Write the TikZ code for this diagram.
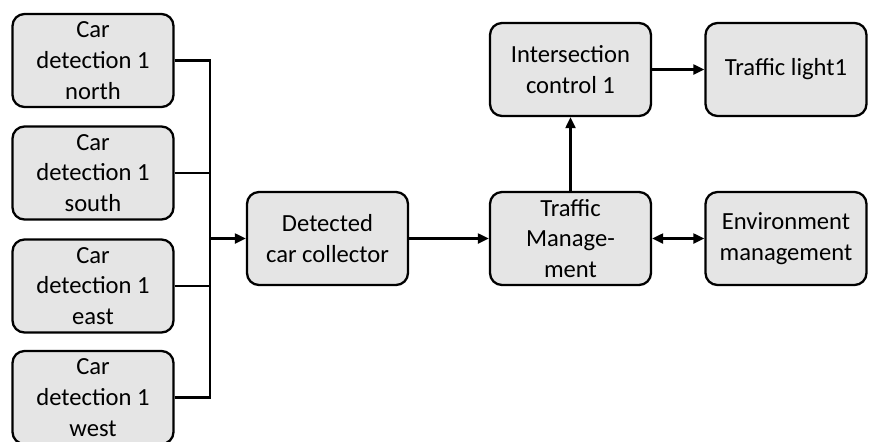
\documentclass[tikz,border=0pt]{standalone}
\usepackage{fontspec}
\setmainfont{Carlito}
\usepackage{tikz}
\usetikzlibrary{arrows.meta}

\begin{document}
\begin{tikzpicture}[>={Triangle[length=0.22cm, width=0.2cm]}]
\tikzset{block/.style={draw, line width=1.3pt, rounded corners=0.24cm, fill=gray!20, minimum width=3.22cm, minimum height=1.86cm, align=center, inner sep=2pt, font=\fontsize{14}{17.5}\selectfont}}
\tikzset{link/.style={line width=1.2pt}}
\useasboundingbox (0,0) rectangle (17.46,-8.82);

% left column: the four detectors
\node[block] (north) at (1.86,-1.21) {Car\\detection 1\\north};
\node[block] (south) at (1.86,-3.46) {Car\\detection 1\\south};
\node[block] (east) at (1.86,-5.72) {Car\\detection 1\\east};
\node[block] (west) at (1.86,-7.95) {Car\\detection 1\\west};

\node[block] (collector) at (6.55,-4.77) {Detected\\car collector};
\node[block] (trafficmgmt) at (11.41,-4.77) {Traffic\\Manage-\\ment};
\node[block] (intersection) at (11.41,-1.39) {Intersection\\control 1};
\node[block] (light) at (15.72,-1.39) {Traffic light1};
\node[block] (environment) at (15.72,-4.77) {Environment\\management};

\coordinate (bus) at (4.2,-4.77);
\draw[link] (north.east) -| (bus);
\draw[link] (west.east) -| (bus);
\draw[link] (south.east) -- (south.east -| bus);
\draw[link] (east.east) -- (east.east -| bus);
\draw[link, ->] (bus) -- (collector.west);

\draw[link, ->] (collector.east) -- (trafficmgmt.west);
\draw[link, ->] (trafficmgmt.north) -- (intersection.south);
\draw[link, ->] (intersection.east) -- (light.west);
\draw[link, <->] (trafficmgmt.east) -- (environment.west);
\end{tikzpicture}
\end{document}
